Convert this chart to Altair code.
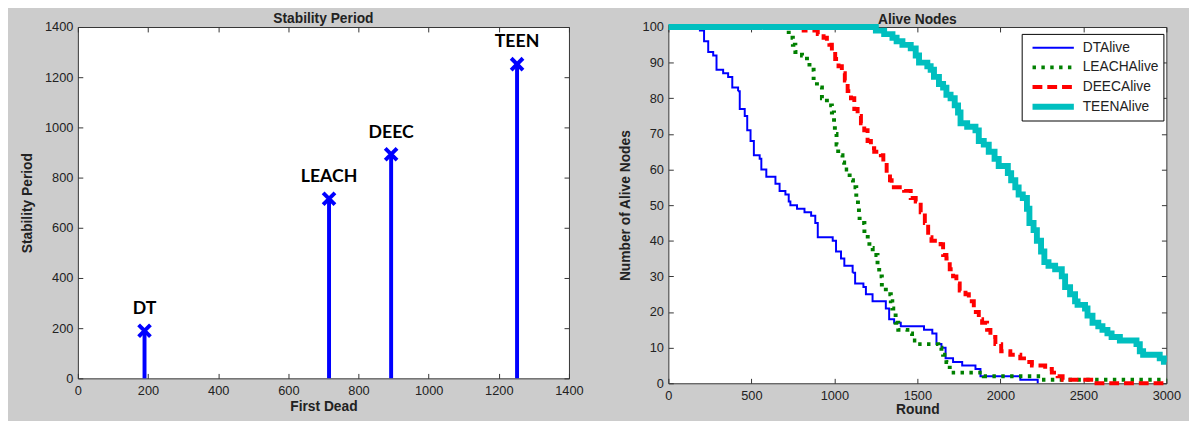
import altair as alt
import pandas as pd

# ---------------- Left panel: Stability Period ----------------
methods = ["DT", "LEACH", "DEEC", "TEEN"]
first_dead = [190, 716, 893, 1252]
stability_period = [190, 716, 893, 1252]
left_ticks = [0, 200, 400, 600, 800, 1000, 1200, 1400]

# ---------------- Right panel: Alive Nodes ----------------
dt_round = [0, 190, 215, 240, 270, 290, 330, 360, 385, 420,
            430, 460, 475, 495, 515, 550, 560, 590, 645, 670,
            705, 725, 735, 775, 820, 860, 885, 900, 990, 1010,
            1040, 1060, 1110, 1125, 1175, 1190, 1230, 1310, 1330, 1360,
            1400, 1540, 1590, 1615, 1645, 1670, 1715, 1770, 1850, 1880,
            2120, 2225]
dt_alive = [100, 99, 96, 93, 92, 88, 87, 86, 83, 82,
            77, 75, 71, 68, 64, 63, 60, 58, 56, 54,
            53, 51, 50, 49, 48, 47, 45, 41, 40, 37,
            35, 33, 31, 28, 27, 25, 23, 21, 18, 17,
            16, 15, 14, 11, 10, 7, 6, 5, 4, 2,
            1, 0]

leach_round = [0, 715, 725, 750, 765, 805, 835, 850, 875, 895,
               925, 955, 985, 998, 1003, 1013, 1023, 1049, 1059, 1092,
               1112, 1132, 1142, 1148, 1152, 1181, 1201, 1211, 1231, 1260,
               1270, 1286, 1310, 1340, 1349, 1369, 1385, 1440, 1468, 1497,
               1626, 1645, 1655, 1675, 1695, 1900, 2245, 3000]
leach_alive = [100, 99, 97, 95, 93, 92, 90, 88, 85, 83,
               80, 78, 76, 73, 70, 67, 64, 62, 60, 57,
               55, 52, 50, 48, 45, 42, 40, 38, 36, 33,
               30, 27, 25, 23, 21, 17, 15, 14, 12, 11,
               10, 9, 8, 6, 3, 2, 1, 1]

deec_round = [0, 815, 900, 935, 955, 970, 985, 1005, 1025, 1045,
              1063, 1080, 1100, 1120, 1140, 1160, 1180, 1200, 1220, 1240,
              1280, 1295, 1315, 1335, 1345, 1420, 1460, 1490, 1520, 1545,
              1565, 1585, 1640, 1655, 1675, 1695, 1715, 1735, 1755, 1790,
              1810, 1840, 1870, 1890, 1920, 1940, 1970, 2005, 2060, 2120,
              2160, 2190, 2270, 2310, 2345, 2375, 2560, 3000]
deec_alive = [100, 99, 98, 97, 96, 95, 93, 91, 89, 87,
              85, 82, 80, 77, 75, 73, 71, 68, 66, 65,
              64, 62, 59, 57, 55, 54, 52, 51, 48, 45,
              41, 40, 39, 36, 35, 32, 30, 28, 26, 25,
              23, 20, 18, 17, 15, 13, 11, 9, 8, 7,
              6, 5, 4, 3, 2, 1, 0, 0]

teen_round = [0, 1250, 1300, 1350, 1375, 1410, 1460, 1490, 1510, 1560,
              1580, 1600, 1630, 1655, 1675, 1700, 1725, 1745, 1760, 1800,
              1850, 1870, 1900, 1930, 1965, 1990, 2045, 2065, 2090, 2110,
              2135, 2160, 2175, 2200, 2220, 2245, 2265, 2290, 2330, 2370,
              2390, 2420, 2450, 2465, 2510, 2525, 2555, 2590, 2615, 2645,
              2670, 2720, 2820, 2840, 2860, 2960, 2985, 3000]
teen_alive = [100, 99, 98, 97, 96, 95, 94, 92, 90, 89,
              88, 86, 84, 83, 81, 80, 78, 76, 73, 72,
              71, 68, 67, 65, 63, 61, 59, 57, 55, 53,
              52, 49, 45, 43, 40, 37, 34, 33, 32, 30,
              27, 25, 23, 22, 21, 19, 17, 16, 15, 14,
              13, 12, 11, 9, 8, 7, 6, 6]

series_names = ["DTAlive", "LEACHAlive", "DEECAlive", "TEENAlive"]
right_x_ticks = [0, 500, 1000, 1500, 2000, 2500, 3000]
right_y_ticks = [0, 10, 20, 30, 40, 50, 60, 70, 80, 90, 100]

# styles
series_colors = ["#0000ff", "#008000", "#ff0000", "#00bfbf"]
series_dash = [[1, 0], [3.5, 5.5], [10, 5], [1, 0]]
series_width = [2, 4, 4, 6]

FONT = "Liberation Sans"
TXT = "#222222"
W1, H1 = 499, 357
W2, H2 = 506, 362


def axis(values, title, grid_len, label_pad, title_pad):
    return alt.Axis(values=values, title=title, ticks=False, domain=False,
                    grid=True, gridDash=[5, grid_len - 10, 5, 4000],
                    gridColor="#333333", gridOpacity=1, gridWidth=1,
                    labelPadding=label_pad, titlePadding=title_pad,
                    labelFlush=False, labelOverlap=False, format="d")


def title(text, offset):
    return alt.TitleParams(text, font=FONT, fontSize=14, fontWeight="bold",
                           color=TXT, offset=offset)


# ---- left chart ----
stem_df = pd.DataFrame({"method": methods, "first_dead": first_dead,
                        "stability": stability_period})
xs1 = alt.Scale(domain=[0, 1400], nice=False)
ys1 = alt.Scale(domain=[0, 1400], nice=False)
x1 = alt.X("first_dead:Q", scale=xs1, axis=axis(left_ticks, "First Dead", H1, 6, 3))
y1 = alt.Y("stability:Q", scale=ys1, axis=axis(left_ticks, "Stability Period", W1, 5, 10))

stems = alt.Chart(stem_df).mark_rule(color="#0000ff", strokeWidth=4).encode(
    x=x1, y=y1, y2=alt.datum(0))
crosses = alt.Chart(stem_df).mark_point(
    shape="M-1,-1L1,1M-1,1L1,-1", size=144, strokeWidth=4, color="#0000ff",
    filled=False, opacity=1).encode(x=x1, y=y1)
names = alt.Chart(stem_df).mark_text(
    font="Lato", fontWeight="bold", fontSize=18, dy=-17, baseline="alphabetic",
    align="center", color="#000000").encode(x=x1, y=y1, text="method:N")

left = alt.layer(stems, crosses, names).properties(
    width=W1, height=H1, title=title("Stability Period", -5))

# ---- right chart ----
rows = []
for name, rr, aa in zip(series_names,
                        [dt_round, leach_round, deec_round, teen_round],
                        [dt_alive, leach_alive, deec_alive, teen_alive]):
    for r, a in zip(rr, aa):
        rows.append({"series": name, "round": r, "alive": a})
alive_df = pd.DataFrame(rows)

leg = alt.Legend(title=None, orient="none", legendX=359, legendY=7,
                 symbolType="stroke", symbolSize=1764, labelFont=FONT,
                 labelFontSize=14, labelColor=TXT, strokeColor="#000000",
                 fillColor="#ffffff", padding=4, clipHeight=20, rowPadding=0,
                 labelOffset=6, symbolOffset=4)

right = alt.Chart(alive_df).mark_line(interpolate="step-after", strokeCap="butt").encode(
    x=alt.X("round:Q", scale=alt.Scale(domain=[0, 3000], nice=False),
            axis=axis(right_x_ticks, "Round", H2, 6, 1)),
    y=alt.Y("alive:Q", scale=alt.Scale(domain=[0, 100], nice=False),
            axis=axis(right_y_ticks, "Number of Alive Nodes", W2, 5, 10)),
    color=alt.Color("series:N", scale=alt.Scale(domain=series_names, range=series_colors),
                    legend=leg),
    strokeDash=alt.StrokeDash("series:N", scale=alt.Scale(domain=series_names, range=series_dash),
                              legend=leg),
    strokeWidth=alt.StrokeWidth("series:N", scale=alt.Scale(type="ordinal", domain=series_names,
                                                            range=series_width),
                                legend=leg),
    order=alt.Order("round:Q"),
).properties(width=W2, height=H2, title=title("Alive Nodes", -12))

chart = alt.hconcat(left, right, spacing=34).resolve_legend(
    color="independent", strokeDash="independent", strokeWidth="independent"
).resolve_scale(
    color="independent", strokeDash="independent", strokeWidth="independent"
).properties(
    background="#cccccc",
    padding={"left": 12, "top": 0, "right": 8, "bottom": 0},
).configure_view(
    stroke="#333333", strokeWidth=1, fill="#ffffff"
).configure_axis(
    labelFont=FONT, labelFontSize=13, labelColor=TXT,
    titleFont=FONT, titleFontSize=14, titleFontWeight="bold", titleColor=TXT,
)

chart.save("out.html", embed_options={"renderer": "svg", "actions": False})
